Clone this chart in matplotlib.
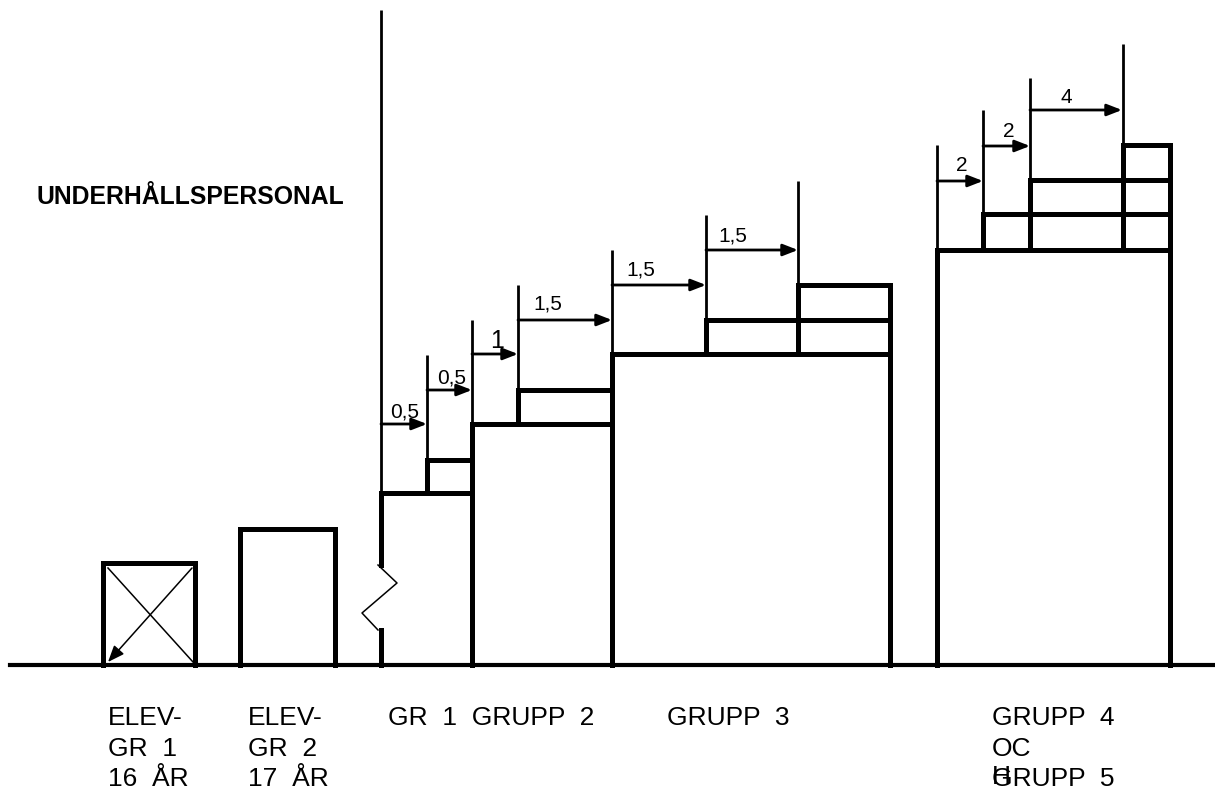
import matplotlib
matplotlib.use('Agg')
import matplotlib.pyplot as plt

plt.rcParams['font.family'] = ['Liberation Sans', 'DejaVu Sans']

# drawing is laid out in pixel units (x right, y down)
W, H = 1215, 796
base_y = 665

# the two pupil groups (plain boxes)
elev_left = [103, 240]
elev_right = [195, 335]
elev_top = [563, 529]

# staff groups: base box + steps stacked on top
grp_left = [381, 472, 612, 937]
grp_right = [472, 612, 890, 1170]
grp_top = [493, 424, 354, 250]
grp_steps = [
    [(427, 460)],
    [(518, 390)],
    [(706, 320), (798, 285)],
    [(983, 214), (1030, 180), (1123, 145)],
]

# thin guide lines (x, top y, bottom y where the thick outline takes over)
guide_x = [381, 427, 472, 518, 612, 706, 798, 937, 983, 1030, 1123]
guide_top = [10, 355, 320, 285, 250, 215, 181, 145, 110, 78, 44]
guide_bot = [493, 460, 424, 390, 354, 320, 285, 250, 214, 180, 145]

# dimension arrows: start, end, y, label
arr_x0 = [381, 427, 472, 518, 612, 706, 937, 983, 1030]
arr_x1 = [427, 472, 518, 612, 706, 798, 983, 1030, 1122]
arr_y = [424, 390, 354, 320, 285, 250, 181, 146, 110]
arr_lbl = ['0,5', '0,5', '1', '1,5', '1,5', '1,5', '2', '2', '4']
lbl_x = [405, 452, 497, 548, 641, 733, 962, 1009, 1066]
lbl_dy = [7, 7, 6, 10, 10, 9, 10, 9, 7]
lbl_size = [15, 15, 18, 15, 15, 15, 15, 15, 15]

# bottom labels
bot_x = [108, 248, 388, 667, 992]
bot_txt = ['ELEV-\nGR  1\n16  ÅR', 'ELEV-\nGR  2\n17  ÅR', 'GR  1  GRUPP  2',
           'GRUPP  3', 'GRUPP  4\nOC\nGRUPP  5']

fig = plt.figure(figsize=(W / 100, H / 100), dpi=100)
ax = fig.add_axes([0, 0, 1, 1])
ax.set_xlim(0, W)
ax.set_ylim(H, 0)
ax.axis('off')

thick = 3.6
thin = 2.0

for x, t, b in zip(guide_x, guide_top, guide_bot):
    ax.plot([x, x], [t, b], color='black', lw=thin, solid_capstyle='butt')

# pupil boxes
for l, r, t in zip(elev_left, elev_right, elev_top):
    ax.plot([l, l, r, r], [base_y, t, t, base_y], color='black', lw=thick,
            solid_joinstyle='miter')
# cross in the first box, one arm an arrow to the lower-left corner
l, r, t = elev_left[0], elev_right[0], elev_top[0]
ax.plot([l + 5, r - 2], [t + 5, base_y - 3], color='black', lw=1.1)
ax.annotate('', xy=(l + 5, base_y - 3), xytext=(r - 3, t + 5),
            arrowprops=dict(arrowstyle='-|>,head_length=1.0,head_width=0.4',
                            lw=1.1, color='black', shrinkA=0, shrinkB=0))

# staff group boxes
for i, (l, r, t, steps) in enumerate(zip(grp_left, grp_right, grp_top, grp_steps)):
    if i == 0:
        # broken left edge
        ax.plot([l, l], [t, 565], color='black', lw=thick)
        ax.plot([l, l], [630, base_y], color='black', lw=thick)
        ax.plot([378, 397, 362, 378], [565, 583, 613, 630], color='black', lw=1.1)
        ax.plot([l, r], [t, t], color='black', lw=thick)
    else:
        ax.plot([l, l, r], [base_y, t, t], color='black', lw=thick,
                solid_joinstyle='miter')
    for sx, sy in steps:
        ax.plot([sx, sx, r], [t, sy, sy], color='black', lw=thick,
                solid_joinstyle='miter')
    top_y = steps[-1][1]
    ax.plot([r, r], [top_y, base_y], color='black', lw=thick)

# baseline
ax.plot([10, W], [base_y, base_y], color='black', lw=3.0)

# dimension arrows and values
for x0, x1, y, s, lx, dy, fs in zip(arr_x0, arr_x1, arr_y, arr_lbl, lbl_x,
                                    lbl_dy, lbl_size):
    ax.annotate('', xy=(x1, y), xytext=(x0, y),
                arrowprops=dict(arrowstyle='-|>,head_length=0.9,head_width=0.35',
                                lw=2.0, color='black', shrinkA=0, shrinkB=0))
    ax.text(lx, y - dy, s, ha='center', va='baseline', fontsize=fs)

ax.text(37, 197, 'UNDERHÅLLSPERSONAL', fontsize=17.8, fontweight='bold',
        va='center', ha='left')

for x, s in zip(bot_x, bot_txt):
    for k, line in enumerate(s.split('\n')):
        ax.text(x, 718 + 30.5 * k, line, fontsize=19, va='center', ha='left')
# the wrapped "H" of "OCH" printed over the last line
ax.text(bot_x[-1], 777, 'H', fontsize=19, va='center', ha='left')

fig.savefig('out.png', dpi=100)
